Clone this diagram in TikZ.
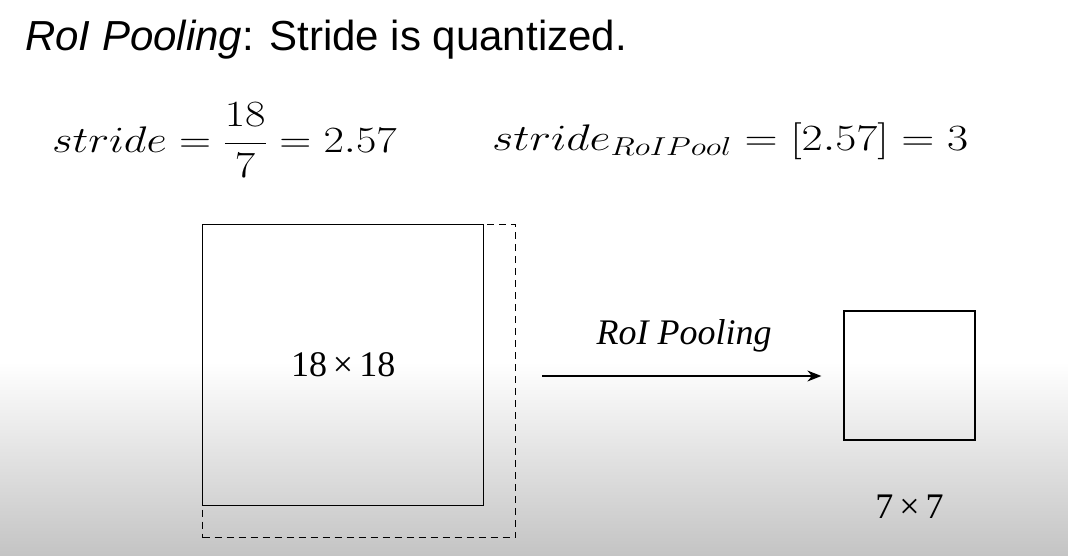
\RequirePackage{fix-cm}
\documentclass[tikz,border=0pt]{standalone}
\usepackage{fontspec}
\usepackage{graphicx}
\usepackage{tikz}
\usetikzlibrary{arrows.meta,positioning}
\newfontfamily\titlefont{Liberation Sans}
\newfontfamily\serifrm{Liberation Serif}
\definecolor{shadegray}{RGB}{196,196,196}

\begin{document}
\begin{tikzpicture}[x=1pt,y=-1pt,
  fbox/.style={draw, line width=1.3pt, inner sep=0pt, anchor=north west},
  tag/.style={font=\serifrm\fontsize{36}{42}\selectfont, inner sep=0pt},
  formula/.style={anchor=base west, inner sep=0pt, font=\fontsize{37}{44}\selectfont}]
\useasboundingbox (0,0) rectangle (1068,555);
\shade[top color=white, bottom color=shadegray] (0,362) rectangle (1068,555);

\node (title) [anchor=base west, inner sep=0pt, font=\titlefont\fontsize{42}{48}\selectfont] at (25,50)
{\textit{RoI Pooling}: Stride is quantized.};
\node (stride) [formula] at (52,152) {\scalebox{1.2}[1]{$\displaystyle stride = \frac{18}{7} = 2.57$}};
\node (strideq) [formula] at (492,150) {\scalebox{1.24}[1]{$stride_{RoIPool} = [2.57] = 3$}};

\node (roiregion) [fbox, line width=1.1pt, dashed, dash pattern=on 7pt off 5pt, minimum width=313pt, minimum height=313pt] at (202,224) {};
\node (featmap) [fbox, minimum width=281pt, minimum height=281pt] at (202,224) {};
\node (featsize) [tag] at (featmap.center) {18\,×\,18};

\node (pooled) [draw, line width=1.3pt, inner sep=0pt, minimum width=131pt, minimum height=129pt] at (909.5,375.5) {};
\node (pooledsize) [tag, below=54pt of pooled] {7\,×\,7};

\coordinate (arrowtail) at (542,376);
\draw [-{Stealth[length=14pt,width=11pt]}, line width=1.3pt, shorten >=22pt] (arrowtail) -- (arrowtail -| pooled.west);
\node (pooltag) [tag] at (684,336) {\itshape RoI Pooling};
\end{tikzpicture}
\end{document}
